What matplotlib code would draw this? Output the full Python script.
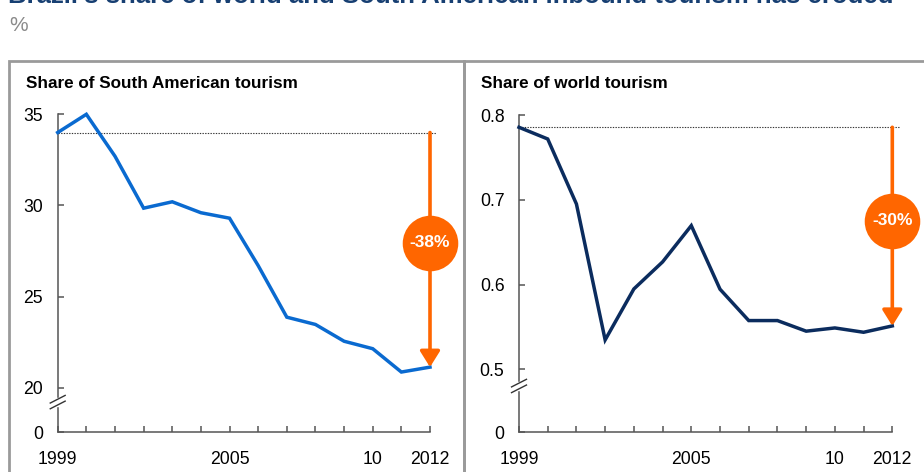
import numpy as np
import matplotlib
matplotlib.use("Agg")
import matplotlib.pyplot as plt
from matplotlib.patches import Rectangle
from matplotlib.lines import Line2D

plt.rcParams['font.family'] = ['Liberation Sans', 'DejaVu Sans']

# ---- data ----
years = list(range(1999, 2013))
south_america_share = [34.0, 35.0, 32.7, 29.85, 30.2, 29.6, 29.3, 26.7,
                       23.87, 23.47, 22.55, 22.14, 20.86, 21.13]
world_share = [0.7855, 0.7717, 0.695, 0.5347, 0.5948, 0.6267, 0.6695, 0.5945,
               0.5575, 0.5575, 0.545, 0.5488, 0.5437, 0.5512]

left_yticks = [0, 20, 25, 30, 35]
left_yticklabels = ["0", "20", "25", "30", "35"]
right_yticks = [0, 0.5, 0.6, 0.7, 0.8]
right_yticklabels = ["0", "0.5", "0.6", "0.7", "0.8"]
xtick_labels = {1999: "1999", 2005: "2005", 2010: "10", 2012: "2012"}

title = "Brazil's share of world and South American inbound tourism has eroded"
unit = "%"
left_title = "Share of South American tourism"
right_title = "Share of world tourism"

ORANGE = "#FF6600"
W, H = 924, 472

fig = plt.figure(figsize=(W / 100, H / 100), dpi=100)


def px(x, y):
    return x / W, 1 - y / H


# panel frames
for x0, x1 in [(9, 464), (464, 940)]:
    fig.patches.append(Rectangle(px(x0, 500), (x1 - x0) / W, (500 - 61) / H,
                                 transform=fig.transFigure, fill=False,
                                 edgecolor="#9a9a9a", linewidth=2, zorder=0))

fig.text(*px(8, 3), title, fontsize=18.5, fontweight="bold", color="#173f72",
         ha="left", va="baseline")
fig.text(*px(9, 31), unit, fontsize=15, color="#8a8a8a", ha="left", va="baseline")


def broken_scale(brk, k):
    def fwd(v):
        v = np.asarray(v, dtype=float)
        return np.where(v >= brk, v, brk - (brk - v) * k)

    def inv(u):
        u = np.asarray(u, dtype=float)
        return np.where(u >= brk, u, brk - (brk - u) / k)
    return fwd, inv


def panel(rect, values, color, brk, k, ytop, yticks, yticklabels,
          ptitle, title_x, break_frac):
    ax = fig.add_axes(rect)
    ax.set_yscale("function", functions=broken_scale(brk, k))
    ax.set_xlim(years[0], years[-1])
    ax.set_ylim(0, ytop)
    ax.plot(years, values, color=color, lw=2.5, solid_joinstyle="miter",
            clip_on=False, zorder=3)

    for s in ["top", "right"]:
        ax.spines[s].set_visible(False)
    for s in ["left", "bottom"]:
        ax.spines[s].set_color("#555555")
        ax.spines[s].set_linewidth(1.1)

    ax.set_yticks(yticks)
    ax.set_yticklabels(yticklabels)
    ax.set_xticks(years)
    ax.set_xticklabels([xtick_labels.get(y, "") for y in years])
    ax.tick_params(axis="y", direction="in", length=4, width=1.1,
                   color="#555555", labelsize=12.7, pad=10.5)
    ax.tick_params(axis="x", direction="in", length=4.5, width=1.1,
                   color="#555555", labelsize=12.7, pad=13.5)

    # reference level and change arrow
    start, end = values[0], values[-1]
    ax.plot([years[0], years[-1] + 0.22], [start, start], color="#333333",
            lw=0.8, ls=(0, (1.2, 1.2)), clip_on=False, zorder=2)
    ax.annotate("", xy=(years[-1], end), xytext=(years[-1], start),
                arrowprops=dict(arrowstyle="-|>,head_length=0.48,head_width=0.3",
                                mutation_scale=20, color=ORANGE, lw=2.6,
                                shrinkA=0, shrinkB=0),
                annotation_clip=False, zorder=4)
    cy = start - 0.47 * (start - end)
    pct = round((end / start - 1) * 100)
    ax.scatter([years[-1]], [cy], s=1600, color=ORANGE, zorder=5, clip_on=False,
               linewidths=0)
    ax.text(years[-1], cy, f"{pct}%", color="white", fontsize=12.5,
            fontweight="bold", ha="center", va="center", zorder=6)

    # axis break marks
    tr = ax.transAxes
    ax.add_patch(Rectangle((-0.01, break_frac - 0.012), 0.02, 0.024,
                           transform=tr, color="white", clip_on=False, zorder=6))
    for dy in (-0.009, 0.009):
        ax.add_line(Line2D([-0.02, 0.02], [break_frac + dy - 0.012, break_frac + dy + 0.012],
                           transform=tr, color="#333333", lw=1.0,
                           clip_on=False, zorder=7))

    fig.text(*px(title_x, 88), ptitle, fontsize=12.3, fontweight="bold",
             ha="left", va="baseline")
    return ax


panel([57.7 / W, 1 - 432.3 / H, (430 - 57.7) / W, (432.3 - 114.3) / H],
      south_america_share, "#0a6ad0", 20, 0.1223, 35,
      left_yticks, left_yticklabels, left_title, 25.5, 0.095)
panel([519 / W, 1 - 432.3 / H, (892.3 - 519) / W, (432.3 - 115) / H],
      world_share, "#0b2c5e", 0.5, 0.1486, 0.8,
      right_yticks, right_yticklabels, right_title, 481.5, 0.146)

fig.savefig("out.png", dpi=100)
